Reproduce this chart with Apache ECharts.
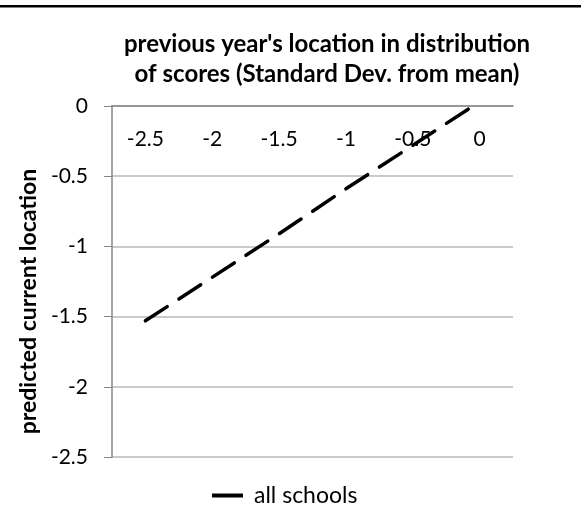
<!DOCTYPE html>
<html>
<head>
<meta charset="utf-8">
<script src="https://cdn.jsdelivr.net/npm/echarts@6/dist/echarts.min.js"></script>
<style>
  html, body { margin: 0; padding: 0; background: #fff; }
  #chart { width: 581px; height: 527px; }
</style>
</head>
<body>
<div id="chart"></div>
<script>
const categories = ['-2.5', '-2', '-1.5', '-1', '-0.5', '0']
const allSchools = [-1.53, -1.22, -0.91, -0.59, -0.28, 0.03]
const seriesName = 'all schools'
const titleText = "previous year's location in distribution\nof scores (Standard Dev. from mean)"
const yAxisName = 'predicted current location'

const font = 'Lato, "Open Sans", sans-serif'
const axisGray = '#868686'
const gridGray = '#b9b9b9'

const chart = echarts.init(document.getElementById('chart'))
chart.setOption({
  animation: false,
  textStyle: { fontFamily: font },
  title: {
    text: titleText,
    left: 322,
    top: 24,
    textAlign: 'center',
    textStyle: { fontFamily: font, fontSize: 24, fontWeight: 'bold', color: '#000', lineHeight: 30 },
  },
  graphic: [
    { type: 'rect', shape: { x: 0, y: 5, width: 581, height: 2.5 }, style: { fill: '#000' } },
  ],
  legend: {
    left: 207,
    top: 479,
    itemWidth: 31,
    itemHeight: 4,
    textStyle: { fontFamily: font, fontSize: 23, color: '#000', padding: [0, 0, 0, 6] },
    data: [{ name: seriesName, icon: 'rect' }],
  },
  grid: { left: 112, right: 68, top: 106, bottom: 70 },
  xAxis: {
    type: 'category',
    position: 'top',
    data: categories,
    boundaryGap: true,
    axisLine: { lineStyle: { color: axisGray, width: 1.5 } },
    axisTick: { inside: true, length: 7, lineStyle: { color: axisGray } },
    axisLabel: { inside: true, margin: 23, fontSize: 21, color: '#000', fontFamily: font },
    splitLine: { show: false },
  },
  yAxis: {
    type: 'value',
    min: -2.5,
    max: 0,
    interval: 0.5,
    name: yAxisName,
    nameLocation: 'middle',
    nameGap: 72,
    nameTextStyle: {
      fontFamily: font, fontSize: 23, fontWeight: 'bold', color: '#000',
      padding: [0, 40, 0, 0],
    },
    axisLine: { show: true, lineStyle: { color: axisGray, width: 1.5 } },
    axisTick: { show: true, length: 8, lineStyle: { color: axisGray } },
    axisLabel: { margin: 24, fontSize: 21, color: '#000', fontFamily: font },
    splitLine: { lineStyle: { color: gridGray, width: 1.5 } },
  },
  series: [
    {
      name: seriesName,
      type: 'line',
      data: allSchools,
      symbol: 'none',
      clip: true,
      lineStyle: { color: '#000', width: 3.5, type: [26, 14], cap: 'round' },
      itemStyle: { color: '#000' },
    },
  ],
})
</script>
</body>
</html>
